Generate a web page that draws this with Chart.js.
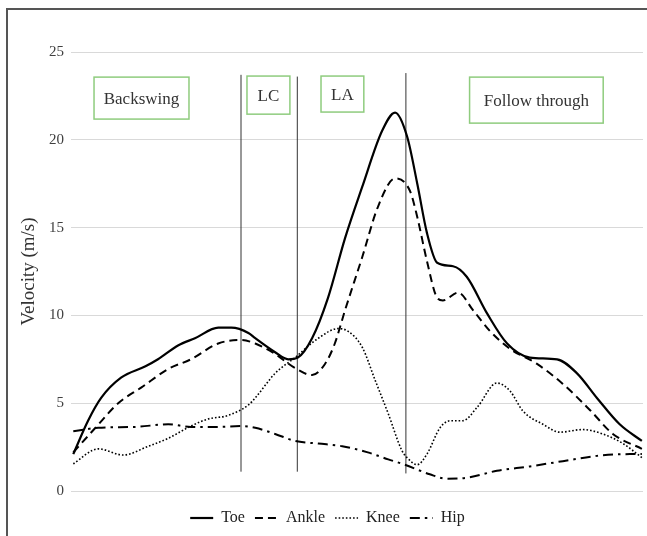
<!DOCTYPE html>
<html>
<head>
<meta charset="utf-8">
<script src="https://cdn.jsdelivr.net/npm/chart.js@4"></script>
<style>
    html, body { margin: 0; padding: 0; background: #fff; overflow: hidden; }
    #wrap { position: relative; width: 647px; height: 536px; overflow: hidden; }
    #frame {
        position: absolute; left: 6px; top: 8px; width: 700px; height: 600px;
        border-left: 2px solid #555; border-top: 2px solid #555;
    }
    #velocityChart { position: absolute; left: 0; top: 0; }
</style>
</head>
<body>
<div id="wrap">
    <div id="frame"></div>
    <canvas id="velocityChart" width="647" height="536"></canvas>
</div>
<script>
// Time axis is % of the kick (0-100), velocities in m/s
const toeTime = [0, 2.6, 4.9, 8.4, 12.7, 14.9, 18.5, 21.4, 25.5, 27.8, 30.8, 32, 35.5, 37.8, 39.5, 42, 44.8, 47.8, 50.8, 54.3, 56.6, 58.7, 60.5, 62.2, 64, 66.8, 69.2, 72.8, 76.3, 80.3, 85.1, 88.6, 92.1, 96.1, 100];
const toeVel = [2.1, 4.0, 5.3, 6.45, 7.1, 7.5, 8.3, 8.7, 9.3, 9.3, 9.0, 8.7, 7.9, 7.5, 7.6, 8.7, 11.0, 14.4, 17.3, 20.5, 21.55, 20.2, 17.5, 14.7, 13.0, 12.8, 12.2, 10.1, 8.4, 7.6, 7.5, 6.7, 5.3, 3.8, 2.85];

const ankleTime = [0, 3.9, 7.9, 12, 16.7, 20.7, 25.5, 29.5, 32, 35.5, 39, 42, 44.3, 46, 47.8, 50.8, 53.6, 56.6, 59.2, 60.5, 62.2, 64, 65, 67.7, 70.3, 73.3, 76.8, 81.5, 86.1, 90.9, 94.9, 100];
const ankleVel = [2.2, 3.6, 5.0, 5.9, 6.95, 7.5, 8.4, 8.6, 8.4, 7.8, 7.0, 6.6, 7.25, 8.4, 10.3, 13.3, 16.2, 17.8, 17.1, 15.6, 13.1, 11.0, 10.85, 11.3, 10.3, 9.1, 8.1, 7.25, 6.1, 4.6, 3.25, 2.4];

const kneeTime = [0, 4.4, 8.8, 13.2, 16.7, 20.7, 23.7, 27.2, 30.8, 32, 35.5, 39, 43.1, 46.6, 48.3, 50.8, 53.1, 55.4, 57.8, 58.7, 60.5, 62.2, 64.5, 66.3, 68.5, 71, 74.5, 76.8, 79.1, 82.6, 85.6, 89.6, 93.1, 96.7, 100];
const kneeVel = [1.55, 2.4, 2.05, 2.55, 3.0, 3.7, 4.1, 4.3, 4.9, 5.3, 6.7, 7.6, 8.7, 9.25, 9.1, 8.2, 6.3, 4.4, 2.3, 1.9, 1.5, 2.1, 3.6, 4.0, 4.0, 4.75, 6.15, 5.7, 4.55, 3.8, 3.35, 3.5, 3.25, 2.7, 1.9];

const hipTime = [0, 4.4, 10.9, 16.7, 20.7, 25.5, 29.5, 32, 35.5, 39, 43.1, 47.3, 51.8, 55.4, 58.3, 62.7, 65.7, 69.2, 74.5, 80.3, 86.1, 92.1, 97.9, 100];
const hipVel = [3.4, 3.6, 3.65, 3.8, 3.65, 3.65, 3.7, 3.6, 3.25, 2.85, 2.7, 2.55, 2.2, 1.8, 1.5, 0.95, 0.7, 0.75, 1.15, 1.4, 1.7, 2.0, 2.1, 2.1];

// Phase boundaries (time) and the span of the marker lines (m/s)
const phaseTimes = [29.5, 39.4, 58.5];
const phaseLineLow = [1.1, 1.1, 1.0];
const phaseLineHigh = [23.7, 23.6, 23.8];

// Phase labels: text, time range, velocity range
const phaseLabels = ["Backswing", "LC", "LA", "Follow through"];
const phaseLabelX = [[3.65, 20.35], [30.55, 38.1], [43.57, 51.1], [69.7, 93.2]];
const phaseLabelY = [[21.18, 23.57], [21.46, 23.63], [21.58, 23.63], [20.95, 23.57]];

const yTicks = [0, 5, 10, 15, 20, 25];

const toPoints = (xs, ys) => xs.map((x, i) => ({ x: x, y: ys[i] }));

const serif = "'Liberation Serif', 'Times New Roman', serif";

const phaseBoxes = {
    id: "phaseBoxes",
    afterDatasetsDraw(chart) {
        const { ctx, scales } = chart;
        ctx.save();
        phaseLabels.forEach((label, i) => {
            const x1 = scales.x.getPixelForValue(phaseLabelX[i][0]);
            const x2 = scales.x.getPixelForValue(phaseLabelX[i][1]);
            const y1 = scales.y.getPixelForValue(phaseLabelY[i][1]);
            const y2 = scales.y.getPixelForValue(phaseLabelY[i][0]);
            ctx.fillStyle = "#fff";
            ctx.fillRect(x1, y1, x2 - x1, y2 - y1);
            ctx.strokeStyle = "#8fcc7e";
            ctx.lineWidth = 1.5;
            ctx.strokeRect(x1, y1, x2 - x1, y2 - y1);
            ctx.fillStyle = "#333";
            ctx.font = "17px " + serif;
            ctx.textAlign = "center";
            ctx.textBaseline = "middle";
            ctx.fillText(label, (x1 + x2) / 2, (y1 + y2) / 2 + 1);
        });
        ctx.restore();
    },
};

const lineStyle = {
    fill: false,
    pointRadius: 0,
    pointHoverRadius: 0,
    borderColor: "#000",
    backgroundColor: "#000",
    cubicInterpolationMode: "monotone",
};

const datasets = [
    { ...lineStyle, label: "Toe", data: toPoints(toeTime, toeVel), borderWidth: 2.2 },
    { ...lineStyle, label: "Ankle", data: toPoints(ankleTime, ankleVel), borderWidth: 2, borderDash: [8, 5] },
    { ...lineStyle, label: "Knee", data: toPoints(kneeTime, kneeVel), borderWidth: 1.6, borderDash: [1.6, 2] },
    { ...lineStyle, label: "Hip", data: toPoints(hipTime, hipVel), borderWidth: 2, borderDash: [10, 5, 2.5, 5] },
];

phaseTimes.forEach((t, i) => {
    datasets.push({
        label: "phase" + i,
        data: [{ x: t, y: phaseLineLow[i] }, { x: t, y: phaseLineHigh[i] }],
        borderColor: "#333",
        borderWidth: 1,
        pointRadius: 0,
        fill: false,
    });
});

new Chart(document.getElementById("velocityChart"), {
    type: "line",
    data: { datasets: datasets },
    plugins: [phaseBoxes],
    options: {
        responsive: false,
        animation: false,
        layout: { padding: { top: 52, right: 4, left: 12, bottom: 0 } },
        scales: {
            x: {
                type: "linear",
                min: -0.4,
                max: 100.2,
                display: true,
                ticks: { display: false },
                grid: { display: false, drawTicks: false },
                border: { display: false },
                afterFit: (scale) => { scale.height = 9; },
            },
            y: {
                min: 0,
                max: 25,
                afterBuildTicks: (scale) => {
                    scale.ticks = yTicks.map((v) => ({ value: v }));
                },
                afterFit: (scale) => { scale.width = 59; },
                ticks: {
                    color: "#404040",
                    padding: 7,
                    font: { family: serif, size: 15 },
                },
                grid: { color: "#d9d9d9", lineWidth: 1, drawTicks: false },
                border: { display: false },
                title: {
                    display: true,
                    text: "Velocity (m/s)",
                    color: "#333",
                    font: { family: serif, size: 19 },
                    padding: { top: 6, bottom: 0 },
                },
            },
        },
        plugins: {
            legend: {
                position: "bottom",
                labels: {
                    color: "#222",
                    font: { family: serif, size: 16 },
                    usePointStyle: true,
                    pointStyle: "line",
                    pointStyleWidth: 23,
                    padding: 10,
                    generateLabels: (chart) =>
                        Chart.defaults.plugins.legend.labels.generateLabels(chart).map((item) => {
                            const ds = chart.data.datasets[item.datasetIndex];
                            item.lineDash = ds.borderDash || [];
                            item.lineWidth = ds.borderWidth;
                            item.strokeStyle = "#000";
                            item.pointStyle = "line";
                            return item;
                        }),
                    filter: (item) => !item.text.startsWith("phase"),
                },
            },
            tooltip: { enabled: false },
        },
    },
});
</script>
</body>
</html>
